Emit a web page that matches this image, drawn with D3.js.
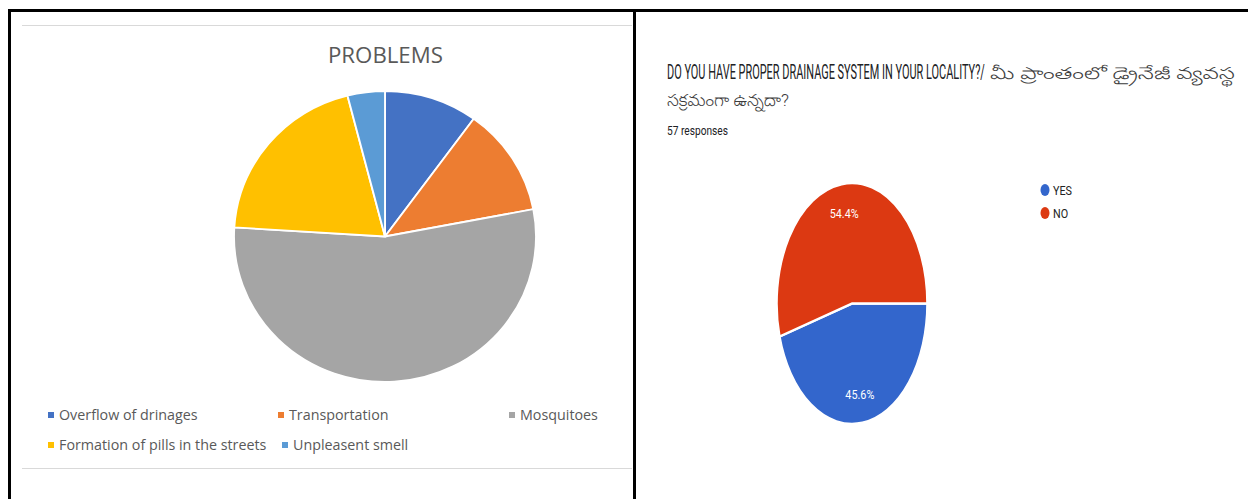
<!DOCTYPE html>
<html>
<head>
<meta charset="utf-8">
<script src="https://cdn.jsdelivr.net/npm/d3@7"></script>
<style>
  html, body { margin: 0; padding: 0; background: #fff; }
  svg { display: block; }
</style>
</head>
<body>
<svg id="chart" width="1248" height="499"></svg>
<script>
// ---------- Data ----------
const problemCategories = ["Overflow of drinages", "Transportation", "Mosquitoes", "Formation of pills in the streets", "Unpleasent smell"];
const problemValues = [10, 12, 54, 20, 4];
const problemColors = ["#4472C4", "#ED7D31", "#A5A5A5", "#FFC000", "#5B9BD5"];
const problemTitle = "PROBLEMS";

const drainCategories = ["YES", "NO"];
const drainValues = [45.6, 54.4];
const drainColors = ["#3366CC", "#DC3912"];
const drainTitleEn = "DO YOU HAVE PROPER DRAINAGE SYSTEM IN YOUR LOCALITY?/";
const drainTitleTe1 = "మీ ప్రాంతంలో డ్రైనేజీ వ్యవస్థ";
const drainTitleTe2 = "సక్రమంగా ఉన్నదా?";
const drainResponses = "57 responses";

// ---------- Setup ----------
const svg = d3.select("#chart");

// fit a text horizontally to a target width by scaling x
function fitText(parent, str, x, y, width, attrs) {
  const t = parent.append("text").text(str);
  Object.entries(attrs).forEach(([k, v]) => t.attr(k, v));
  const len = t.node().getComputedTextLength();
  const s = width / len;
  t.attr("transform", `translate(${x},${y}) scale(${s},1)`);
  return t;
}

// Frame
svg.append("rect").attr("x", 0).attr("y", 0).attr("width", 1248).attr("height", 499).attr("fill", "#fff");
svg.append("line").attr("x1", 8).attr("x2", 1248).attr("y1", 10.5).attr("y2", 10.5).attr("stroke", "#000").attr("stroke-width", 3);
svg.append("line").attr("x1", 9.5).attr("x2", 9.5).attr("y1", 9).attr("y2", 499).attr("stroke", "#000").attr("stroke-width", 3);
svg.append("line").attr("x1", 634.5).attr("x2", 634.5).attr("y1", 9).attr("y2", 499).attr("stroke", "#000").attr("stroke-width", 3);

// ---------- Left: Excel-style pie ----------
const left = svg.append("g");
left.append("line").attr("x1", 22).attr("x2", 632).attr("y1", 25.5).attr("y2", 25.5).attr("stroke", "#d9d9d9").attr("stroke-width", 1);
left.append("line").attr("x1", 22).attr("x2", 632).attr("y1", 468.5).attr("y2", 468.5).attr("stroke", "#d9d9d9").attr("stroke-width", 1);

fitText(left, problemTitle, 328, 63, 115, {
  "font-family": "'Open Sans', 'Noto Sans', sans-serif",
  "font-size": 21.5,
  "fill": "#595959"
});

const lPie = d3.pie().sort(null).value(d => d)(problemValues);
const lR = 145.5;
const lArc = d3.arc().innerRadius(0).outerRadius(lR);
const lg = left.append("g").attr("transform", `translate(385,236.5) scale(${151 / 145.5},1)`);
lg.selectAll("path").data(lPie).join("path")
  .attr("d", lArc)
  .attr("fill", (d, i) => problemColors[i])
  .attr("stroke", "#fff")
  .attr("stroke-width", 1.8);

// Legend
const legPos = [[48, 415], [278, 415], [509, 415], [48, 445], [282, 445]];
const leg = left.append("g");
problemCategories.forEach((c, i) => {
  const [x, y] = legPos[i];
  leg.append("rect").attr("x", x).attr("y", y - 3).attr("width", 6).attr("height", 6).attr("fill", problemColors[i]);
  leg.append("text").attr("x", x + 11).attr("y", y + 5)
    .attr("font-family", "'Open Sans', 'Noto Sans', sans-serif")
    .attr("font-size", 14.3)
    .attr("fill", "#595959")
    .text(c);
});

// ---------- Right: Google Forms-style pie ----------
const right = svg.append("g");
const tFont = "Roboto, 'Noto Sans', 'Noto Sans Telugu', sans-serif";
fitText(right, drainTitleEn, 667, 79, 318, {
  "font-family": tFont, "font-size": 21, "fill": "#202124"
});
fitText(right, drainTitleTe1, 990, 79, 245, {
  "font-family": tFont, "font-size": 17, "fill": "#3c3c3c", "font-weight": 300
});
fitText(right, drainTitleTe2, 667, 106, 122, {
  "font-family": tFont, "font-size": 17, "fill": "#3c3c3c", "font-weight": 300
});
fitText(right, drainResponses, 667, 135, 61, {
  "font-family": tFont, "font-size": 13, "fill": "#202124"
});

const rR = 120.5;
const rSx = 75 / 120.5;
const rPie = d3.pie().sort(null).value(d => d).startAngle(Math.PI / 2).endAngle(Math.PI / 2 + 2 * Math.PI)(drainValues);
const rArc = d3.arc().innerRadius(0).outerRadius(rR);
const rLabelArc = d3.arc().innerRadius(rR * 0.76).outerRadius(rR * 0.76);
const rg = right.append("g").attr("transform", `translate(852,303.5)`);
const rgs = rg.append("g").attr("transform", `scale(${rSx},1)`);
rgs.selectAll("path").data(rPie).join("path")
  .attr("d", rArc)
  .attr("fill", (d, i) => drainColors[i])
  .attr("stroke", "#fff")
  .attr("stroke-width", 2.5);
rPie.forEach(d => {
  const [cx, cy] = rLabelArc.centroid(d);
  rg.append("text")
    .attr("transform", `translate(${cx * rSx},${cy + 5}) scale(0.8,1)`)
    .attr("text-anchor", "middle")
    .attr("font-family", "Roboto, sans-serif")
    .attr("font-size", 13.5)
    .attr("fill", "#fff")
    .text(d3.format(".1f")(d.data) + "%");
});

// Legend
drainCategories.forEach((c, i) => {
  const y = 190 + i * 23;
  right.append("ellipse").attr("cx", 1045).attr("cy", y).attr("rx", 4.5).attr("ry", 6).attr("fill", drainColors[i]);
  right.append("text")
    .attr("transform", `translate(1053,${y + 5}) scale(0.8,1)`)
    .attr("font-family", "Roboto, sans-serif")
    .attr("font-size", 13.5)
    .attr("fill", "#222")
    .text(c);
});
</script>
</body>
</html>
